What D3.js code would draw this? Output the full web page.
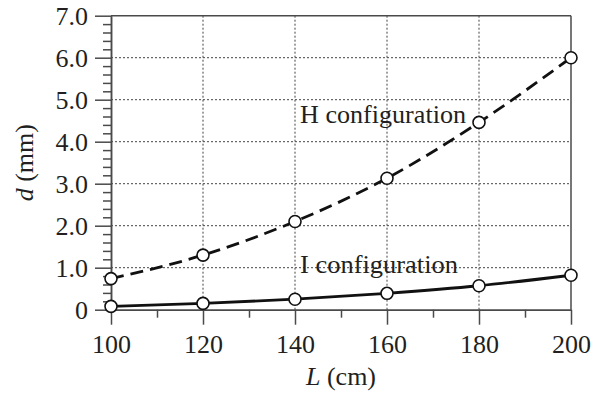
<!DOCTYPE html>
<html><head><meta charset="utf-8">
<script src="https://cdn.jsdelivr.net/npm/d3@7"></script>
<style>
html,body{margin:0;padding:0;background:#fff;}
svg text{font-family:"Liberation Serif","Times New Roman",Times,serif !important;fill:#231f20;}
</style></head>
<body><svg id="chart" width="603" height="400"></svg>
<script>
const lengths = [100, 120, 140, 160, 180, 200];
const hConfig = [0.74, 1.30, 2.10, 3.13, 4.46, 6.00];
const iConfig = [0.08, 0.15, 0.25, 0.39, 0.57, 0.82];
const xTicks = [100, 120, 140, 160, 180, 200];
const yTicks = [0, 1, 2, 3, 4, 5, 6, 7];
const yTickLabels = ["0", "1.0", "2.0", "3.0", "4.0", "5.0", "6.0", "7.0"];
const seriesLabels = ["H configuration", "I configuration"];

const svg = d3.select("#chart");
const x = d3.scaleLinear().domain([100, 200]).range([111, 571]);
const y = d3.scaleLinear().domain([0, 7]).range([309.7, 15.7]);
const axisColor = "#4a4a4a";
const fs = 26;
const serif = '"Liberation Serif","Times New Roman",Times,serif';

// gridlines
const grid = svg.append("g");
grid.selectAll("line.v").data(xTicks.slice(1, -1)).enter().append("line")
  .attr("x1", d => x(d)).attr("x2", d => x(d)).attr("y1", y(0)).attr("y2", y(7))
  .attr("stroke", "#444").attr("stroke-width", 1).attr("stroke-dasharray", "2,2");
grid.selectAll("line.h").data(yTicks.slice(1, -1)).enter().append("line")
  .attr("x1", x(100)).attr("x2", x(200)).attr("y1", d => y(d)).attr("y2", d => y(d))
  .attr("stroke", "#444").attr("stroke-width", 1).attr("stroke-dasharray", "2,2");

// frame top and right
svg.append("line").attr("x1", x(100)).attr("x2", x(200)).attr("y1", y(7)).attr("y2", y(7))
  .attr("stroke", axisColor).attr("stroke-width", 1.5);
svg.append("line").attr("x1", x(200)).attr("x2", x(200)).attr("y1", y(7)).attr("y2", y(0))
  .attr("stroke", axisColor).attr("stroke-width", 1.5);

// x axis
const xMinor = svg.append("g").attr("transform", `translate(0,${y(0)})`)
  .call(d3.axisBottom(x).tickValues(d3.range(110, 200, 20)).tickSize(8).tickSizeOuter(0).tickFormat(""));
const xMajor = svg.append("g").attr("transform", `translate(0,${y(0)})`)
  .call(d3.axisBottom(x).tickValues(xTicks).tickSize(15).tickSizeOuter(0).tickPadding(10).tickFormat(d3.format("d")));

// y axis
const yMinor = svg.append("g").attr("transform", `translate(${x(100)},0)`)
  .call(d3.axisLeft(y).tickValues(d3.range(0, 7.01, 0.2).filter(v => Math.abs(v - Math.round(v)) > 0.01)).tickSize(8).tickSizeOuter(0).tickFormat(""));
const yMajor = svg.append("g").attr("transform", `translate(${x(100)},0)`)
  .call(d3.axisLeft(y).tickValues(yTicks).tickSize(16).tickSizeOuter(0).tickPadding(7).tickFormat((d, i) => yTickLabels[i]));

[xMinor, xMajor, yMinor, yMajor].forEach(g => {
  g.attr("font-family", serif).attr("font-size", fs);
  g.select(".domain").attr("stroke", axisColor).attr("stroke-width", 1.5);
  g.selectAll("line").attr("stroke", axisColor).attr("stroke-width", 1.5);
  g.selectAll("text").style("font-family", serif).style("font-size", fs + "px").attr("fill", "#231f20");
});

// lines
const line = d3.line().x((d, i) => x(lengths[i])).y(d => y(d)).curve(d3.curveMonotoneX);
svg.append("path").datum(hConfig).attr("d", line).attr("fill", "none")
  .attr("stroke", "#111").attr("stroke-width", 2.8).attr("stroke-dasharray", "13,7");
svg.append("path").datum(iConfig).attr("d", line).attr("fill", "none")
  .attr("stroke", "#111").attr("stroke-width", 2.8);

[hConfig, iConfig].forEach(series => {
  svg.append("g").selectAll("circle").data(series).enter().append("circle")
    .attr("cx", (d, i) => x(lengths[i])).attr("cy", d => y(d)).attr("r", 6)
    .attr("fill", "#fff").attr("stroke", "#111").attr("stroke-width", 1.6);
});

// annotations
svg.append("text").attr("x", 300).attr("y", 123).style("font-size", fs + "px")
  .attr("textLength", 166).attr("lengthAdjust", "spacingAndGlyphs").text(seriesLabels[0]);
svg.append("text").attr("x", 300).attr("y", 273).style("font-size", fs + "px")
  .attr("textLength", 158).attr("lengthAdjust", "spacingAndGlyphs").text(seriesLabels[1]);

// axis titles
const xt = svg.append("text").attr("x", 341).attr("y", 385).style("font-size", fs + "px").attr("text-anchor", "middle");
xt.append("tspan").attr("font-style", "italic").text("L");
xt.append("tspan").text(" (cm)");
const yt = svg.append("text").attr("transform", "translate(33,162.7) rotate(-90)").style("font-size", fs + "px").attr("text-anchor", "middle");
yt.append("tspan").attr("font-style", "italic").text("d");
yt.append("tspan").text(" (mm)");
</script></body></html>
